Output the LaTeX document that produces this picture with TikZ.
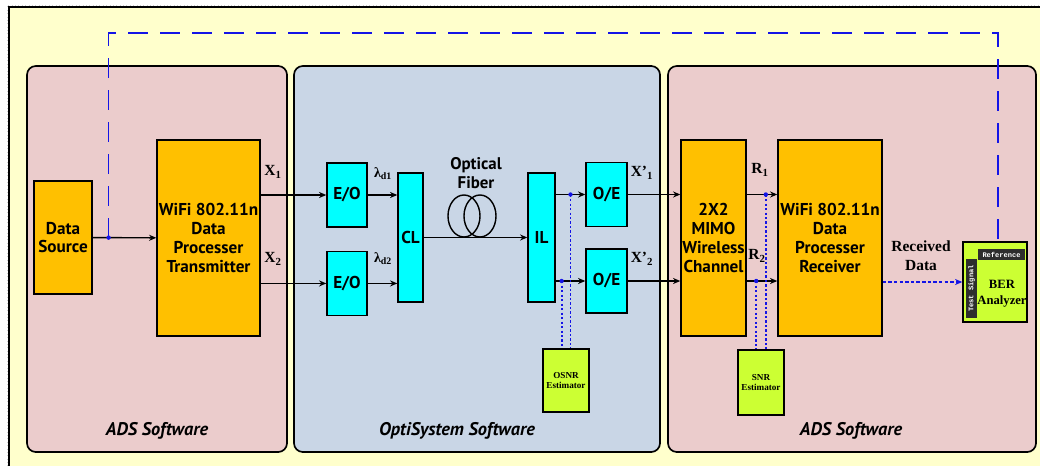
\documentclass[tikz,border=0pt]{standalone}
\usepackage{fontspec}
\setmainfont{Liberation Serif}
\setsansfont{PT Sans}
\setmonofont{Liberation Mono}
\usepackage{tikz}
\usetikzlibrary{positioning,arrows.meta,calc}
\definecolor{PaleYellow}{RGB}{255,255,204}
\definecolor{PanelPink}{RGB}{235,204,204}
\definecolor{PanelBlue}{RGB}{201,214,230}
\definecolor{BlockOrange}{RGB}{255,192,0}
\definecolor{BlockCyan}{RGB}{0,255,255}
\definecolor{BlockLime}{RGB}{204,255,51}
\definecolor{TapBlue}{RGB}{20,20,230}
\definecolor{DarkTag}{RGB}{45,45,45}

\begin{document}
\begin{tikzpicture}[x=0.025cm, y=-0.025cm,
    panel/.style={draw=black, line width=1.2pt, rounded corners=0.22cm},
    blk/.style={rectangle, draw=black, line width=1pt, fill=BlockOrange, inner sep=0pt,
                align=center, font=\sffamily\bfseries\fontsize{12.2}{13.4}\selectfont},
    opt/.style={blk, fill=BlockCyan},
    est/.style={rectangle, draw=black, line width=1pt, fill=BlockLime, inner sep=0pt,
                align=center, font=\bfseries\fontsize{6.5}{7.6}\selectfont},
    tag/.style={rectangle, fill=DarkTag, text=white, inner sep=0pt,
                font=\ttfamily\bfseries\fontsize{5}{6}\selectfont},
    sig/.style={font=\bfseries\fontsize{11}{13}\selectfont},
    plabel/.style={font=\sffamily\bfseries\itshape\fontsize{13}{15}\selectfont},
    arrow/.style={-{Stealth[length=1.8mm, width=1.5mm]}, line width=1pt},
    probe/.style={TapBlue, line width=1.3pt, dash pattern=on 1.6pt off 1.6pt},
    feedback/.style={TapBlue, line width=1pt, dash pattern=on 0.5cm off 0.3cm}
]
    \useasboundingbox (0,0) rectangle (1040,466);
    \clip (0,0) rectangle (1040,466);
    \draw[gray!40, dotted] (7,466) -- (7,5) -- (1040,5);
    \draw[fill=PaleYellow, line width=1.5pt] (9,7) rectangle (1060,480);

    \draw[panel, fill=PanelPink] (27,66) rectangle (287,452);
    \draw[panel, fill=PanelBlue] (294,66) rectangle (660,452);
    \draw[panel, fill=PanelPink] (668,66) rectangle (1036,452);
    \node[plabel] (adsL) at (157,431) {ADS Software};
    \node[plabel] (opti) at (457,431) {OptiSystem Software};
    \node[plabel] (adsR) at (851,431) {ADS Software};

    \node[blk, minimum width=1.45cm, minimum height=2.825cm] (src) at (63,237.5) {Data\\Source};
    \node[blk, minimum width=2.575cm, minimum height=4.9cm] (tx) at (208.5,238) {WiFi 802.11n\\Data\\Processer\\Transmitter};

    \node[opt, minimum width=1cm, minimum height=1.6cm] (eo1) at (347,195) {E/O};
    \node[opt, minimum width=1cm, minimum height=1.6cm, below=0.575cm of eo1] (eo2) {E/O};
    \node[opt, minimum width=0.625cm, minimum height=3.225cm] (cl) at (410.5,237.5) {CL};
    \node[opt, minimum width=0.675cm, minimum height=3.225cm] (il) at (541.5,237.5) {IL};
    \node[opt, minimum width=1.025cm, minimum height=1.6cm] (oe1) at (606.5,194.5) {O/E};
    \node[opt, minimum width=1.025cm, minimum height=1.6cm] (oe2) at (606.5,281) {O/E};
    \node[est, minimum width=1.15cm, minimum height=1.575cm] (osnr) at (566,380.5) {OSNR\\Estimator};

    \node[blk, minimum width=1.625cm, minimum height=4.9cm] (mimo) at (713.5,238) {2X2\\MIMO\\Wireless\\Channel};
    \node[blk, minimum width=2.6cm, minimum height=4.9cm] (rx) at (830,238) {WiFi 802.11n\\Data\\Processer\\Receiver};
    \node[est, minimum width=1.15cm, minimum height=1.625cm] (snr) at (761,382.5) {SNR\\Estimator};

    \node[rectangle, draw=black, line width=1pt, fill=BlockLime, minimum width=1.6cm, minimum height=2cm] (ber) at (995,282) {};
    \node[tag, minimum width=1.175cm, minimum height=0.27cm] (refTag) at (1001.5,254.5) {Reference};
    \node[tag, minimum width=1.45cm, minimum height=0.275cm, rotate=90] (testTag) at (971.5,288.5) {Test Signal};
    \node[font=\bfseries\fontsize{9}{11.5}\selectfont, align=center] (berTxt) at (1002,294) {BER\\Analyzer};

    \draw[line width=1pt] (464,216) ellipse [x radius=0.4cm, y radius=0.525cm];
    \draw[line width=1pt] (480,216) ellipse [x radius=0.4cm, y radius=0.525cm];
    \node[font=\sffamily\bfseries\fontsize{12}{13.5}\selectfont, align=center] (fiber) at (476,173.5) {Optical\\Fiber};

    \node[sig] (x1) at (273,172) {X\textsubscript{1}};
    \node[sig] (x2) at (273,259) {X\textsubscript{2}};
    \node[sig, font=\bfseries\fontsize{10}{12}\selectfont] (ld1) at (383,174) {λ\textsubscript{d1}};
    \node[sig, font=\bfseries\fontsize{10}{12}\selectfont] (ld2) at (383,259) {λ\textsubscript{d2}};
    \node[sig] (xp1) at (642,173) {X’\textsubscript{1}};
    \node[sig] (xp2) at (642,259) {X’\textsubscript{2}};
    \node[sig] (r1) at (760,170) {R\textsubscript{1}};
    \node[sig] (r2) at (757,256) {R\textsubscript{2}};
    \node[sig, align=center, font=\bfseries\fontsize{11}{13.5}\selectfont] (rxd) at (921,256) {Received\\Data};

    \draw[arrow] (src) -- (tx);
    \draw[arrow] (tx.east |- eo1.west) -- (eo1.west);
    \draw[arrow] (tx.east |- eo2.west) -- (eo2.west);
    \draw[arrow] (eo1.east) -- (cl.west |- eo1.east);
    \draw[arrow] (eo2.east) -- (cl.west |- eo2.east);
    \draw[arrow] (cl) -- (il);
    \draw[arrow] (il.east |- oe1.west) -- (oe1.west);
    \draw[arrow] (il.east |- oe2.west) -- (oe2.west);
    \draw[arrow] (oe1.east) -- (mimo.west |- oe1.east);
    \draw[arrow] (oe2.east) -- (mimo.west |- oe2.east);
    \draw[arrow] (mimo.east |- oe1.east) -- (rx.west |- oe1.east);
    \draw[arrow] (mimo.east |- oe2.east) -- (rx.west |- oe2.east);

    \coordinate (tapSrc) at ($(src.east)!0.25!(tx.west)$);
    \coordinate (tapO1) at ($(il.east |- oe1.west)!0.5!(oe1.west)$);
    \coordinate (tapO2) at ($(il.east |- oe2.west)!0.2!(oe2.west)$);
    \coordinate (tapR1) at ($(mimo.east |- oe1.east)!0.625!(rx.west |- oe1.east)$);
    \coordinate (tapR2) at ($(mimo.east |- oe2.east)!0.31!(rx.west |- oe2.east)$);
    \coordinate (fbTurn) at (998,33);

    \draw[feedback] (tapSrc) |- (fbTurn) -- (fbTurn |- refTag.north);
    \draw[probe] (tapO1) -- (tapO1 |- osnr.north);
    \draw[probe] (tapO2) -- (tapO2 |- osnr.north);
    \draw[probe] (tapR1) -- (tapR1 |- snr.north);
    \draw[probe] (tapR2) -- (tapR2 |- snr.north);
    \draw[probe, dash pattern=on 2.5pt off 1.5pt, -{Stealth[length=1.8mm, width=1.5mm]}] (rx.east |- ber.west) -- (ber.west);

    \foreach \p in {tapSrc,tapO1,tapO2,tapR1,tapR2}
        \fill[TapBlue] (\p) circle[radius=0.055cm];
\end{tikzpicture}
\end{document}
